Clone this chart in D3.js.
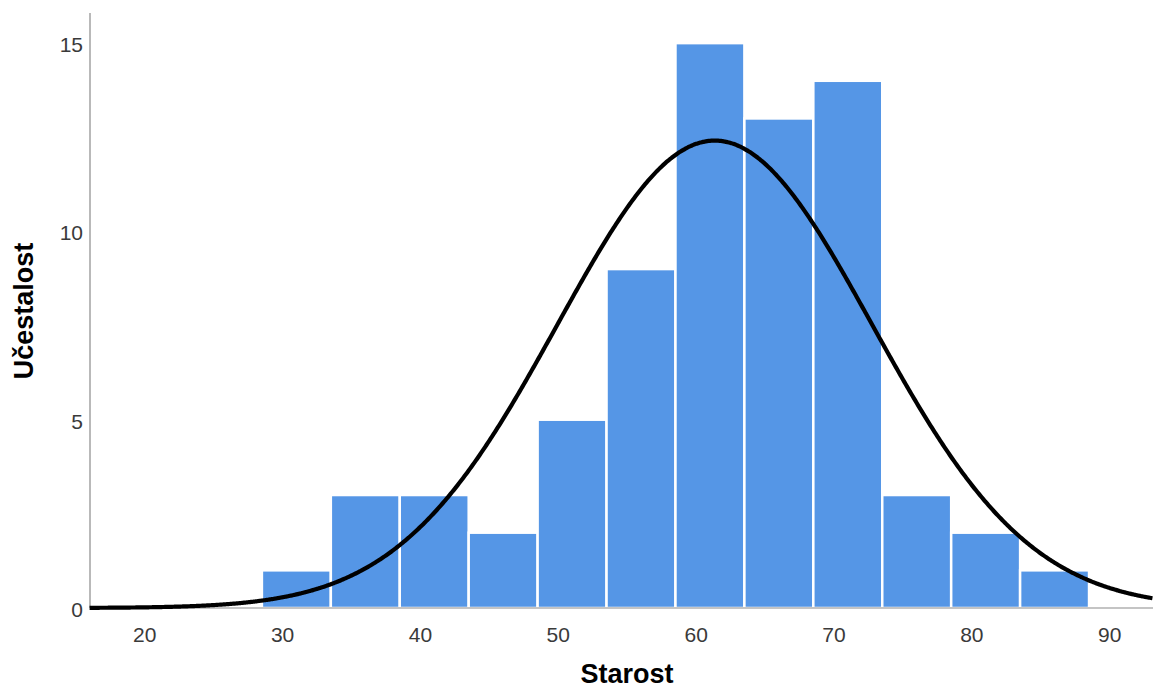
<!DOCTYPE html>
<html>
<head>
<meta charset="utf-8">
<script src="https://cdn.jsdelivr.net/npm/d3@7"></script>
<style>
  body { margin: 0; background: #fff; }
  text { font-family: "Liberation Sans", Arial, sans-serif; }
</style>
</head>
<body>
<div id="chart"></div>
<script>
// bin starts (width 5) and counts
const binStarts = [28.5, 33.5, 38.5, 43.5, 48.5, 53.5, 58.5, 63.5, 68.5, 73.5, 78.5, 83.5];
const binCounts = [1, 3, 3, 2, 5, 9, 15, 13, 14, 3, 2, 1];
const binWidth = 5;
const xTicks = [20, 30, 40, 50, 60, 70, 80, 90];
const yTicks = [0, 5, 10, 15];
const curveMean = 61.35;
const curveSd = 11.41;

const width = 1153, height = 690;
const margin = {top: 13, right: 0, bottom: 82, left: 90};

const svg = d3.select("#chart").append("svg")
    .attr("width", width)
    .attr("height", height);

const x = d3.scaleLinear()
    .domain([16.03, 93.14])
    .range([margin.left, width - margin.right]);

const y = d3.scaleLinear()
    .domain([0, 15.8])
    .range([height - margin.bottom, margin.top]);

const total = d3.sum(binCounts);

// bars
svg.append("g")
    .selectAll("rect")
    .data(binStarts)
    .enter().append("rect")
    .attr("x", d => x(d))
    .attr("y", (d, i) => y(binCounts[i]))
    .attr("width", d => x(d + binWidth) - x(d))
    .attr("height", (d, i) => y(0) - y(binCounts[i]))
    .attr("fill", "#5596e6")
    .attr("stroke", "#ffffff")
    .attr("stroke-width", 2.5);

// axes
svg.append("line")
    .attr("x1", x.range()[0]).attr("x2", x.range()[1])
    .attr("y1", y(0)).attr("y2", y(0))
    .attr("stroke", "#8a8a8a").attr("stroke-width", 1.2);
svg.append("line")
    .attr("x1", margin.left).attr("x2", margin.left)
    .attr("y1", y.range()[0]).attr("y2", y.range()[1])
    .attr("stroke", "#8a8a8a").attr("stroke-width", 1.2);

// normal curve
const pts = d3.range(16.0, 93.2, 0.1).map(v => {
    const z = (v - curveMean) / curveSd;
    return [v, total * binWidth / (curveSd * Math.sqrt(2 * Math.PI)) * Math.exp(-0.5 * z * z)];
});
svg.append("path")
    .datum(pts)
    .attr("fill", "none")
    .attr("stroke", "#000")
    .attr("stroke-width", 4.2)
    .attr("d", d3.line().x(d => x(d[0])).y(d => y(d[1])).curve(d3.curveBasis));

// tick labels
svg.append("g")
    .selectAll("text")
    .data(xTicks)
    .enter().append("text")
    .attr("x", d => x(d))
    .attr("y", y(0) + 34)
    .attr("text-anchor", "middle")
    .attr("font-size", 21)
    .attr("fill", "#3a3a3a")
    .text(d => d);

svg.append("g")
    .selectAll("text")
    .data(yTicks)
    .enter().append("text")
    .attr("x", margin.left - 7)
    .attr("y", d => y(d) + 9)
    .attr("text-anchor", "end")
    .attr("font-size", 21)
    .attr("fill", "#3a3a3a")
    .text(d => d);

// axis titles
svg.append("text")
    .attr("x", 627)
    .attr("y", 683)
    .attr("text-anchor", "middle")
    .attr("font-size", 27)
    .attr("font-weight", "bold")
    .attr("fill", "#000")
    .text("Starost");

svg.append("text")
    .attr("transform", "translate(33,311) rotate(-90)")
    .attr("text-anchor", "middle")
    .attr("font-size", 27)
    .attr("font-weight", "bold")
    .attr("fill", "#000")
    .text("Učestalost");
</script>
</body>
</html>
